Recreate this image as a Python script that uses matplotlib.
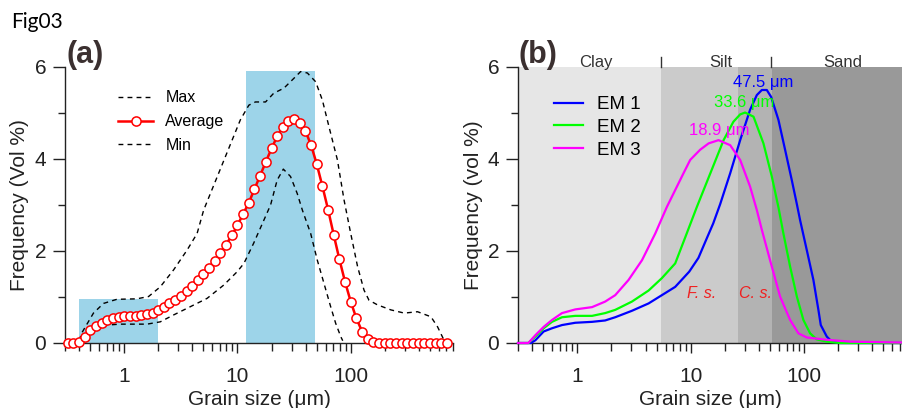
import matplotlib
matplotlib.use("Agg")
from matplotlib import pyplot as plt
from matplotlib.ticker import NullFormatter, LogLocator

plt.rcParams["font.family"] = ["Liberation Sans", "DejaVu Sans"]

# panel (a): average grain size distribution, one marker per size class
size_a = [0.316, 0.355, 0.398, 0.447, 0.501, 0.562, 0.631, 0.708, 0.794, 0.891,
          1.0, 1.12, 1.26, 1.41, 1.58, 1.78, 2.0, 2.24, 2.51, 2.82,
          3.16, 3.55, 3.98, 4.47, 5.01, 5.62, 6.31, 7.08, 7.94, 8.91,
          10.0, 11.2, 12.6, 14.1, 15.8, 17.8, 20.0, 22.4, 25.1, 28.2,
          31.6, 35.5, 39.8, 44.7, 50.1, 56.2, 63.1, 70.8, 79.4, 89.1,
          100, 112, 126, 141, 158, 178, 200, 224, 251, 282,
          316, 355, 398, 447, 501, 562, 631, 708]
avg = [0, 0, 0.03, 0.13, 0.28, 0.37, 0.44, 0.50, 0.54, 0.57,
       0.58, 0.59, 0.59, 0.60, 0.62, 0.66, 0.72, 0.79, 0.86, 0.94,
       1.03, 1.13, 1.24, 1.36, 1.49, 1.63, 1.79, 1.96, 2.14, 2.34,
       2.56, 2.80, 3.05, 3.34, 3.63, 3.94, 4.23, 4.49, 4.70, 4.83,
       4.86, 4.79, 4.61, 4.30, 3.89, 3.41, 2.90, 2.35, 1.82, 1.33,
       0.90, 0.54, 0.25, 0.08, 0.02, 0, 0, 0, 0, 0,
       0, 0, 0, 0, 0, 0, 0, 0]

max_x = [0.40, 0.42, 0.535, 0.656, 0.861, 1.29, 1.64, 2.08, 2.73, 3.59, 4.40, 5.03,
         10.6, 12.6, 14.4, 17.7, 20.9, 25.7, 30.5, 36.1, 41.4, 49.0, 56.2, 64.3,
         76.3, 87.3, 100, 115, 131, 145, 172, 226, 297, 389, 511, 585, 670]
max_y = [0.05, 0.21, 0.65, 0.86, 0.95, 0.96, 1.01, 1.22, 1.59, 2.02, 2.38, 2.89,
         4.85, 5.17, 5.24, 5.24, 5.43, 5.54, 5.72, 5.90, 5.87, 5.68, 5.28, 4.70,
         3.98, 3.11, 2.38, 1.66, 1.15, 0.93, 0.83, 0.72, 0.65, 0.68, 0.57, 0.35, 0.05]

min_x = [0.42, 0.452, 0.573, 0.703, 0.922, 1.29, 1.59, 2.08, 2.73, 3.84, 5.39, 7.57,
         9.94, 11.4, 13.9, 17.1, 19.6, 22.4, 25.4, 29.4, 33.7, 37.4, 44.3, 50.7,
         58.0, 66.5, 73.6, 81.6, 85.0]
min_y = [0.03, 0.14, 0.32, 0.39, 0.41, 0.41, 0.41, 0.46, 0.61, 0.79, 0.97, 1.26,
         1.55, 1.73, 2.17, 2.67, 3.00, 3.54, 3.78, 3.62, 3.25, 2.89, 2.38, 1.80,
         1.30, 0.79, 0.43, 0.14, 0.05]

# highlighted size ranges in (a): (start, end, height)
boxes_a = [(0.4, 2.0, 0.95), (12.0, 48.0, 5.91)]

# panel (b): end members
em1_x = [0.3, 0.39, 0.427, 0.505, 0.598, 0.733, 0.96, 1.35, 1.76, 2.16, 3.03, 4.25,
         5.57, 7.30, 9.7, 11.7, 14.0, 15.8, 18.2, 22.3, 27.3, 33.4, 38.3, 42.4, 46.9,
         51.2, 59.4, 68.0, 77.9, 86.3, 92.2, 105.6, 120.8, 133.7, 140.3, 158.5, 175.4,
         207, 730]
em1_y = [0, 0, 0.06, 0.25, 0.32, 0.39, 0.44, 0.46, 0.49, 0.56, 0.70, 0.86,
         1.04, 1.22, 1.55, 1.85, 2.30, 2.60, 3.02, 3.69, 4.41, 5.07, 5.39, 5.50, 5.50,
         5.35, 4.85, 4.20, 3.54, 3.02, 2.67, 2.02, 1.37, 0.72, 0.39, 0.14, 0.03,
         0, 0]
em2_x = [0.3, 0.37, 0.427, 0.505, 0.598, 0.733, 0.96, 1.35, 1.76, 2.16, 3.03, 4.25,
         5.57, 7.30, 8.77, 11.3, 14.9, 19.5, 23.8, 27.3, 30.2, 35.8, 43.8, 51.9, 59.4,
         65.7, 75.3, 86.3, 98.6, 113, 129, 158, 207, 730]
em2_y = [0, 0, 0.14, 0.32, 0.46, 0.56, 0.59, 0.59, 0.65, 0.72, 0.90, 1.14,
         1.41, 1.73, 2.24, 2.95, 3.69, 4.41, 4.81, 4.97, 5.01, 4.92, 4.34, 3.62, 2.95,
         2.38, 1.66, 1.01, 0.50, 0.21, 0.08, 0.03, 0, 0]
em3_x = [0.3, 0.37, 0.427, 0.505, 0.598, 0.733, 0.96, 1.35, 1.76, 2.16, 2.83, 3.72,
         4.87, 6.17, 8.64, 9.9, 12.1, 14.4, 17.6, 22.3, 27.3, 33.4, 38.3, 42.4, 50.1,
         61.4, 75.3, 89.1, 105.6, 158, 254, 701, 730]
em3_y = [0, 0, 0.17, 0.35, 0.50, 0.65, 0.73, 0.78, 0.90, 1.04, 1.37, 1.80,
         2.38, 2.96, 3.69, 3.98, 4.20, 4.34, 4.41, 4.30, 3.98, 3.40, 2.89, 2.46, 1.80,
         1.01, 0.50, 0.21, 0.12, 0.07, 0.03, 0.01, 0.01]

em_names = ["EM 1", "EM 2", "EM 3"]
em_colors = ["#0000ff", "#00ff00", "#ff00ff"]
mode_labels = ["47.5 μm", "33.6 μm", "18.9 μm"]
mode_pos = [(43.5, 5.67), (29.6, 5.22), (17.8, 4.61)]

# background zones in (b): (start, end, colour)
zones = [(0.3, 5.5, "#e6e6e6"), (5.5, 26.0, "#cbcbcb"), (26.0, 52.0, "#b3b3b3"), (52.0, 730, "#999999")]
zone_names = ["Clay", "Silt", "Sand"]
zone_name_x = [1.47, 18.6, 221]
zone_edges = [5.5, 51.0]

ink = "#222222"


def style_axes(ax, xmax, ylab):
    ax.set_xscale("log")
    ax.set_xlim(0.3, xmax)
    ax.set_ylim(0, 6)
    for s in ["top", "right"]:
        ax.spines[s].set_visible(False)
    for s in ["left", "bottom"]:
        ax.spines[s].set_color(ink)
        ax.spines[s].set_linewidth(1.0)
    ax.set_xticks([1, 10, 100], ["1", "10", "100"])
    ax.xaxis.set_minor_locator(LogLocator(base=10, subs=range(2, 10)))
    ax.xaxis.set_minor_formatter(NullFormatter())
    ax.set_yticks([0, 2, 4, 6], ["0", "2", "4", "6"])
    ax.set_yticks([1, 3, 5], minor=True)
    ax.tick_params(axis="both", which="both", direction="out", colors=ink, labelsize=15, width=1.0)
    ax.tick_params(axis="y", which="major", length=8.5, pad=5)
    ax.tick_params(axis="y", which="minor", length=5)
    ax.tick_params(axis="x", which="major", length=7, pad=10)
    ax.tick_params(axis="x", which="minor", length=6)
    ax.set_xlabel("Grain size (μm)", fontsize=15, color=ink, labelpad=3)
    ax.set_ylabel(ylab, fontsize=15, color=ink)


fig = plt.figure(figsize=(9.02, 4.08), dpi=100)
ax_a = fig.add_axes([65 / 902, 65 / 408, 388 / 902, 276 / 408])
ax_b = fig.add_axes([518 / 902, 65 / 408, 384 / 902, 276 / 408])

# ---- (a)
for x0, x1, h in boxes_a:
    ax_a.fill_between([x0, x1], 0, h, color="#9dd4e9", lw=0, zorder=1)
ax_a.plot(max_x, max_y, color="black", lw=1.0, ls=(0, (3.5, 3)), label="Max", zorder=2)
ax_a.plot(size_a, avg, color="#ff0000", lw=1.8, marker="o", ms=6.6, mfc="white",
          mec="#ff0000", mew=1.1, label="Average", zorder=4, clip_on=False)
ax_a.plot(min_x, min_y, color="black", lw=1.0, ls=(0, (3.5, 3)), label="Min", zorder=2)
style_axes(ax_a, 800, "Frequency (Vol %)")
ax_a.yaxis.set_label_coords(-0.093, 0.5)
ax_a.legend(loc="upper left", bbox_to_anchor=(0.137, 0.915), frameon=False, fontsize=11.5,
            handlelength=2.2, handletextpad=0.75, labelspacing=0.55, borderpad=0, borderaxespad=0)
ax_a.text(0.005, 1.043, "(a)", transform=ax_a.transAxes, fontsize=22, fontweight="bold",
          color="#3b3030", ha="left", va="center")

# ---- (b)
for x0, x1, c in zones:
    ax_b.axvspan(x0, x1, color=c, lw=0, zorder=0)
for xs, ys, name, c in zip([em1_x, em2_x, em3_x], [em1_y, em2_y, em3_y], em_names, em_colors):
    ax_b.plot(xs, ys, color=c, lw=1.6, label=name, zorder=3, clip_on=False)
for lab, (px, py), c in zip(mode_labels, mode_pos, em_colors):
    ax_b.text(px, py, lab, color=c, fontsize=12, ha="center", va="center", zorder=4)
ax_b.text(12.6, 1.07, "F. s.", color="#f02020", fontsize=11.5, style="italic", ha="center", va="center")
ax_b.text(37.0, 1.07, "C. s.", color="#f02020", fontsize=11.5, style="italic", ha="center", va="center")
trans = ax_b.get_xaxis_transform()
for name, zx in zip(zone_names, zone_name_x):
    ax_b.text(zx, 1.018, name, transform=trans, fontsize=12, color="#333333", ha="center", va="center")
for ex in zone_edges:
    ax_b.plot([ex, ex], [1.0, 1.036], transform=trans, color="#333333", lw=1.0, clip_on=False)
style_axes(ax_b, 730, "Frequency (vol %)")
ax_b.yaxis.set_label_coords(-0.091, 0.5)
ax_b.legend(loc="upper left", bbox_to_anchor=(0.094, 0.895), frameon=False, fontsize=13.5,
            handlelength=1.55, handletextpad=0.75, labelspacing=0.3, borderpad=0, borderaxespad=0)
ax_b.text(0.0, 1.043, "(b)", transform=ax_b.transAxes, fontsize=22, fontweight="bold",
          color="#3b3030", ha="left", va="center")

fig.text(11 / 902, 1 - 22 / 408, "Fig03", fontsize=15, family=["Lato", "DejaVu Sans"],
         ha="left", va="center", color="black")

fig.savefig("out.png", dpi=100)
